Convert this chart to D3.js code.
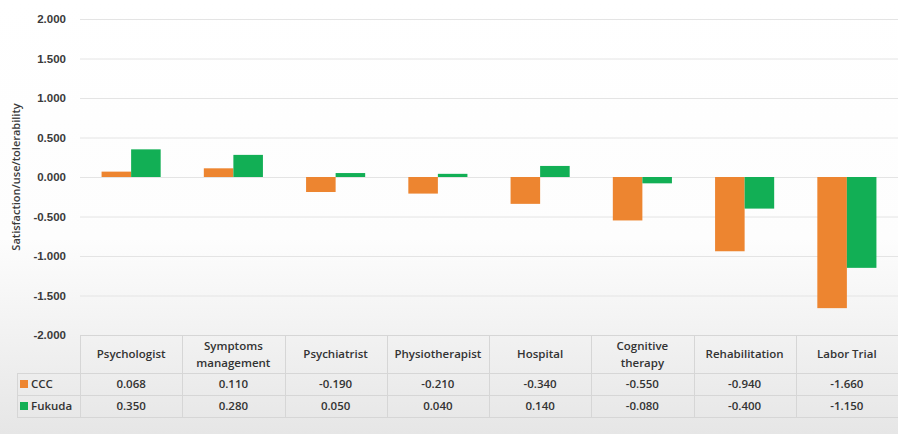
<!DOCTYPE html>
<html>
<head>
<meta charset="utf-8">
<script src="https://cdn.jsdelivr.net/npm/d3@7"></script>
<style>
  html, body { margin: 0; padding: 0; background: #fff; }
  svg { display: block; font-family: "Open Sans", "DejaVu Sans", sans-serif; }
</style>
</head>
<body>
<svg id="chart" width="898" height="434"></svg>
<script>
// Categories (two-line labels are split with "\n")
const categories = ["Psychologist", "Symptoms\nmanagement", "Psychiatrist", "Physiotherapist",
                    "Hospital", "Cognitive\ntherapy", "Rehabilitation", "Labor Trial"];
const seriesNames = ["CCC", "Fukuda"];
const cccValues    = [0.068, 0.110, -0.190, -0.210, -0.340, -0.550, -0.940, -1.660];
const fukudaValues = [0.350, 0.280,  0.050,  0.040,  0.140, -0.080, -0.400, -1.150];
const yTicks = [2, 1.5, 1, 0.5, 0, -0.5, -1, -1.5, -2];
const colors = ["#ED8530", "#12AF55"];
const yTitle = "Satisfaction/use/tolerability";

const svg = d3.select("#chart");
const W = 898, H = 434;

// soft background shading toward the bottom
const defs = svg.append("defs");
const grad = defs.append("linearGradient").attr("id", "bg").attr("x1", 0).attr("y1", 0).attr("x2", 0).attr("y2", 1);
grad.append("stop").attr("offset", "0%").attr("stop-color", "#ffffff");
grad.append("stop").attr("offset", "55%").attr("stop-color", "#fdfdfd");
grad.append("stop").attr("offset", "100%").attr("stop-color", "#e6e6e6");
svg.append("rect").attr("width", W).attr("height", H).attr("fill", "url(#bg)");

const plotLeft = 80, plotRight = 898;
const y = d3.scaleLinear().domain([-2, 2]).range([335, 19]);
const x = d3.scaleBand().domain(categories).range([plotLeft, plotRight]).paddingInner(0).paddingOuter(0);
const xs = d3.scaleBand().domain(seriesNames).range([0, x.bandwidth()]).paddingInner(0).paddingOuter(0.73);

// plain hyphen-minus number format
const fmt = v => d3.format(".3f")(v).replace("\u2212", "-");

// gridlines + tick labels via axis
const yAxis = d3.axisLeft(y).tickValues(yTicks).tickFormat(fmt)
  .tickSize(-(plotRight - plotLeft)).tickPadding(14);
const gy = svg.append("g").attr("transform", `translate(${plotLeft},0)`).call(yAxis);
gy.select(".domain").remove();
gy.selectAll(".tick line").attr("stroke", "#e4e4e4").attr("stroke-width", 1);
gy.selectAll(".tick text").attr("fill", "#3a3a3a").attr("font-size", 11.5).attr("font-weight", 600);

// y axis title
svg.append("text")
  .attr("transform", `translate(20,177) rotate(-90)`)
  .attr("text-anchor", "middle")
  .attr("fill", "#3a3a3a").attr("font-size", 11).attr("font-weight", 600)
  .text(yTitle);

// bars
const series = [cccValues, fukudaValues];
series.forEach((vals, si) => {
  svg.append("g").selectAll("rect").data(vals).join("rect")
    .attr("x", (d, i) => x(categories[i]) + xs(seriesNames[si]))
    .attr("width", xs.bandwidth())
    .attr("y", d => y(Math.max(0, d)))
    .attr("height", d => Math.abs(y(d) - y(0)))
    .attr("fill", colors[si]);
});

// data table
const rowTop = 335, headerBottom = 373, row1Bottom = 395, row2Bottom = 417, legendLeft = 17;
const border = "#d6d6d6";
const tbl = svg.append("g").attr("stroke", border).attr("stroke-width", 1).attr("fill", "none");
tbl.append("line").attr("x1", plotLeft).attr("x2", plotRight).attr("y1", rowTop + 0.5).attr("y2", rowTop + 0.5);
[headerBottom, row1Bottom, row2Bottom].forEach(yy =>
  tbl.append("line").attr("x1", legendLeft).attr("x2", plotRight).attr("y1", yy + 0.5).attr("y2", yy + 0.5));
tbl.append("line").attr("x1", legendLeft + 0.5).attr("x2", legendLeft + 0.5).attr("y1", headerBottom).attr("y2", row2Bottom);
categories.forEach(c => {
  const xx = Math.round(x(c)) + 0.5;
  tbl.append("line").attr("x1", xx).attr("x2", xx).attr("y1", rowTop).attr("y2", row2Bottom);
});

// header labels
const txt = svg.append("g").attr("fill", "#333").attr("font-size", 11.5).attr("font-weight", 600).attr("text-anchor", "middle");
categories.forEach(c => {
  const lines = c.split("\n");
  const cx = x(c) + x.bandwidth() / 2;
  const cy = (rowTop + headerBottom) / 2;
  lines.forEach((ln, li) => {
    txt.append("text").attr("x", cx)
      .attr("y", cy + (li - (lines.length - 1) / 2) * 17)
      .attr("dy", "0.35em").text(ln);
  });
});

// value rows
const rowCenters = [(headerBottom + row1Bottom) / 2, (row1Bottom + row2Bottom) / 2];
series.forEach((vals, si) => {
  vals.forEach((v, i) => {
    txt.append("text").attr("x", x(categories[i]) + x.bandwidth() / 2)
      .attr("y", rowCenters[si]).attr("dy", "0.35em").text(fmt(v));
  });
  // legend key
  svg.append("rect").attr("x", 20).attr("y", rowCenters[si] - 4).attr("width", 8).attr("height", 8).attr("fill", colors[si]);
  svg.append("text").attr("x", 31).attr("y", rowCenters[si]).attr("dy", "0.35em")
    .attr("fill", "#333").attr("font-size", 11.5).attr("font-weight", 600).text(seriesNames[si]);
});
</script>
</body>
</html>
